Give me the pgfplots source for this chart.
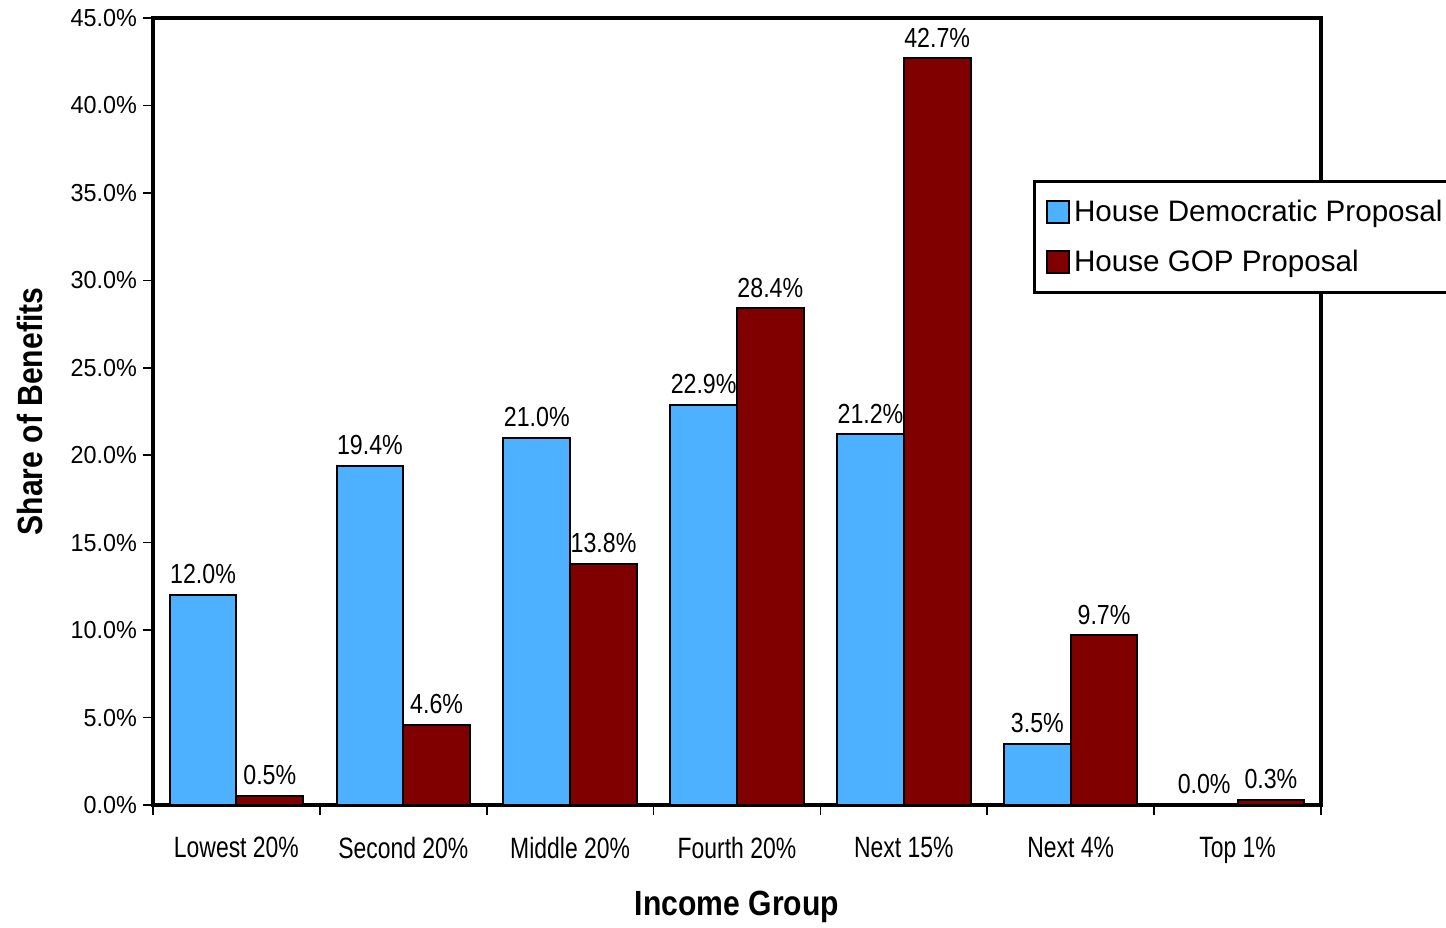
\documentclass[border=0pt]{standalone}
\usepackage{fontspec}
\setmainfont{Liberation Sans}
\newfontfamily\condf{Liberation Sans}[FakeStretch=0.78]
\newfontfamily\labf{Liberation Sans}[FakeStretch=0.84]
\newfontfamily\tickf{Liberation Sans}[FakeStretch=0.95]
\newfontfamily\titf{Liberation Sans}[FakeStretch=0.86]
\usepackage{pgfplots}
\pgfplotsset{compat=1.18}
\definecolor{demblue}{RGB}{77,177,255}
\definecolor{gopred}{RGB}{128,0,0}
\begin{document}
\begin{tikzpicture}
\path[use as bounding box] (-76.5pt,-61pt) rectangle (646.5pt,402.5pt);
\begin{axis}[
  scale only axis, width=584pt, height=393.5pt,
  xmin=-0.5, xmax=6.5, ymin=0, ymax=45,
  /pgf/number format/assume math mode=true,
  axis line style={line width=1.8pt},
  tick pos=left, tick align=outside, major tick length=5pt,
  tick style={line width=0.8pt, black},
  xtick={-0.5,0.5,...,6.5},
  x tick label as interval,
  xticklabels={Lowest 20\%, Second 20\%, Middle 20\%, Fourth 20\%, Next 15\%, Next 4\%, Top 1\%},
  xticklabel style={font=\condf\fontsize{14.7}{16}\selectfont, yshift=-7.5pt},
  ytick={0,5,...,45},
  yticklabel={\pgfmathprintnumber[fixed,fixed zerofill,precision=1]{\tick}\%},
  yticklabel style={font=\tickf\fontsize{12.3}{14}\selectfont, xshift=0.5pt},
  every axis y label/.style={at={(axis description cs:-0.105,0.5)}, rotate=90, anchor=center},
  every axis x label/.style={at={(axis description cs:0.5,-0.1295)}, anchor=center},
  ylabel={\titf\bfseries\fontsize{17.5}{20}\selectfont Share of Benefits},
  xlabel={\titf\bfseries\fontsize{17.5}{20}\selectfont Income Group},
  ybar, bar width=0.4,
  nodes near coords={\pgfmathprintnumber[fixed,fixed zerofill,precision=1]{\pgfplotspointmeta}\%},
  every node near coord/.append style={font=\labf\fontsize{13.8}{15}\selectfont, text=black, inner sep=2pt, yshift=3pt},
  legend style={at={(rel axis cs:0.7534,0.794)}, anchor=north west, draw=black, line width=1.5pt,
    font=\fontsize{14.8}{17}\selectfont, row sep=9pt, inner xsep=6pt, inner ysep=7pt, fill=white},
  legend cell align=left,
  legend image code/.code={\draw[#1, line width=0.8pt] (0pt,-5.5pt) rectangle (11pt,5.5pt);},
]
\addplot[fill=demblue, draw=black, line width=1pt, bar shift=-0.2] coordinates {
  (0,12.0) (1,19.4) (2,21.0) (3,22.9) (4,21.2) (5,3.5) (6,0.0)};
\addlegendentry{House Democratic Proposal}
\addplot[fill=gopred, draw=black, line width=1pt, bar shift=0.2] coordinates {
  (0,0.5) (1,4.6) (2,13.8) (3,28.4) (4,42.7) (5,9.7) (6,0.3)};
\addlegendentry{House GOP Proposal}
\end{axis}
\end{tikzpicture}
\end{document}
